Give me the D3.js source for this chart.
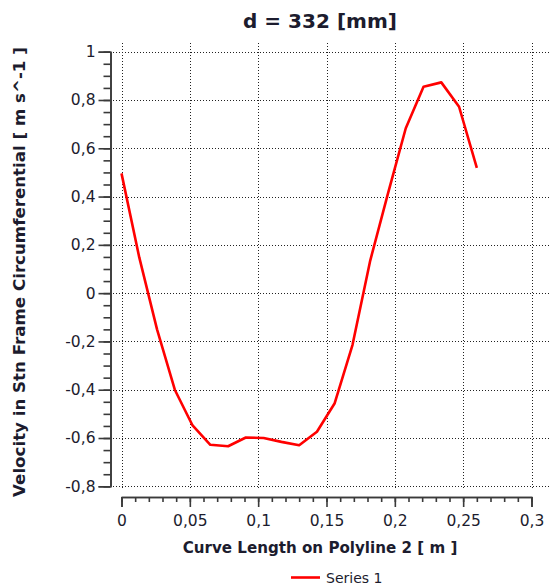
<!DOCTYPE html>
<html><head><meta charset="utf-8">
<script src="https://cdn.jsdelivr.net/npm/d3@7"></script>
<style>
html,body{margin:0;padding:0;background:#fff;}
svg{display:block;}
text{font-family:"DejaVu Sans",Verdana,sans-serif;fill:#1c1c2e;}
</style></head>
<body>
<svg id="chart" width="549" height="587"></svg>
<script>
// ---- data ----
const titleText = "d = 332 [mm]";
const xTitle = "Curve Length on Polyline 2 [ m ]";
const yTitle = "Velocity in Stn Frame Circumferential [ m s^-1 ]";
const seriesName = "Series 1";
const xValues = [0, 0.013, 0.026, 0.039, 0.052, 0.065, 0.078, 0.091, 0.104, 0.117, 0.13,
                 0.143, 0.156, 0.169, 0.182, 0.195, 0.208, 0.221, 0.234, 0.247, 0.26];
const yValues = [0.496, 0.148, -0.15, -0.40, -0.548, -0.628, -0.634, -0.598, -0.600, -0.616, -0.630,
                 -0.574, -0.456, -0.215, 0.135, 0.413, 0.683, 0.855, 0.873, 0.772, 0.519];
const xTicks = [0, 0.05, 0.1, 0.15, 0.2, 0.25, 0.3];
const xTickLabels = ["0", "0,05", "0,1", "0,15", "0,2", "0,25", "0,3"];
const yTicks = [-0.8, -0.6, -0.4, -0.2, 0, 0.2, 0.4, 0.6, 0.8, 1];
const yTickLabels = ["-0,8", "-0,6", "-0,4", "-0,2", "0", "0,2", "0,4", "0,6", "0,8", "1"];

const svg = d3.select("#chart");
const x = d3.scaleLinear().domain([0, 0.3]).range([121.5, 531.5]);
const y = d3.scaleLinear().domain([-0.8, 1]).range([486.3, 51.7]);
const axisColor = "#3a3a3a";

function fit(sel, target) {
  const n = sel.node();
  const fs = parseFloat(sel.style("font-size"));
  const w = n.getComputedTextLength();
  sel.style("font-size", (fs * target / w) + "px");
}

// grid
const grid = svg.append("g").attr("stroke", "#222").attr("stroke-width", 1).attr("stroke-dasharray", "1,2");
grid.selectAll("line.v").data(xTicks).join("line")
  .attr("x1", d => Math.round(x(d)) + 0.5).attr("x2", d => Math.round(x(d)) + 0.5)
  .attr("y1", 43).attr("y2", 488);
grid.selectAll("line.h").data(yTicks).join("line")
  .attr("y1", d => Math.round(y(d)) + 0.5).attr("y2", d => Math.round(y(d)) + 0.5)
  .attr("x1", 113).attr("x2", 549);

// y axis (minor then major)
const yMinor = d3.range(-0.8, 1.0001, 0.05);
const yMinorG = svg.append("g").attr("transform", "translate(110.5,0)")
  .call(d3.axisLeft(y).tickValues(yMinor).tickSize(7).tickSizeOuter(0).tickFormat(""));
const yMajorG = svg.append("g").attr("transform", "translate(110.5,0)")
  .call(d3.axisLeft(y).tickValues(yTicks).tickSize(12).tickSizeOuter(12).tickPadding(3)
    .tickFormat((d, i) => yTickLabels[i]));
[yMinorG, yMajorG].forEach(g => {
  g.selectAll("line").attr("stroke", axisColor).attr("stroke-width", 1.6);
  g.select(".domain").attr("stroke", axisColor).attr("stroke-width", 1.6);
});
yMajorG.selectAll("text").attr("font-size", 15.5).attr("fill", "#1c1c2e").style("font-family", '"DejaVu Sans",Verdana,sans-serif');

// x axis
const xMinor = d3.range(0, 0.3001, 0.01);
const xMinorG = svg.append("g").attr("transform", "translate(0,497)")
  .call(d3.axisBottom(x).tickValues(xMinor).tickSize(5).tickSizeOuter(0).tickFormat(""));
const xMajorG = svg.append("g").attr("transform", "translate(0,497)")
  .call(d3.axisBottom(x).tickValues(xTicks).tickSize(10).tickSizeOuter(10).tickPadding(8)
    .tickFormat((d, i) => xTickLabels[i]));
[xMinorG, xMajorG].forEach(g => {
  g.selectAll("line").attr("stroke", axisColor).attr("stroke-width", 1.6);
  g.select(".domain").attr("stroke", axisColor).attr("stroke-width", 1.6);
});
xMajorG.selectAll("text").attr("font-size", 15.5).attr("fill", "#1c1c2e").style("font-family", '"DejaVu Sans",Verdana,sans-serif');

// series line
const pts = xValues.map((v, i) => [v, yValues[i]]);
svg.append("path").datum(pts)
  .attr("fill", "none").attr("stroke", "#ff0000").attr("stroke-width", 2.6)
  .attr("stroke-linejoin", "round")
  .attr("d", d3.line().x(d => x(d[0])).y(d => y(d[1])));

// titles
const t = svg.append("text").attr("x", 320).attr("y", 28).attr("text-anchor", "middle")
  .style("font-size", "20px").style("font-weight", "bold").text(titleText);
fit(t, 154);
const xt = svg.append("text").attr("x", 320).attr("y", 553).attr("text-anchor", "middle")
  .style("font-size", "15px").style("font-weight", "bold").text(xTitle);
fit(xt, 275);
const yt = svg.append("text").attr("transform", "translate(25,272) rotate(-90)").attr("text-anchor", "middle")
  .style("font-size", "15px").style("font-weight", "bold").text(yTitle);
fit(yt, 450);

// legend
const lg = svg.append("g");
lg.append("line").attr("x1", 291).attr("x2", 320).attr("y1", 577.5).attr("y2", 577.5)
  .attr("stroke", "#ff0000").attr("stroke-width", 2.6);
lg.append("text").attr("x", 326).attr("y", 582.5).style("font-size", "14px").text(seriesName);
</script>
</body></html>
